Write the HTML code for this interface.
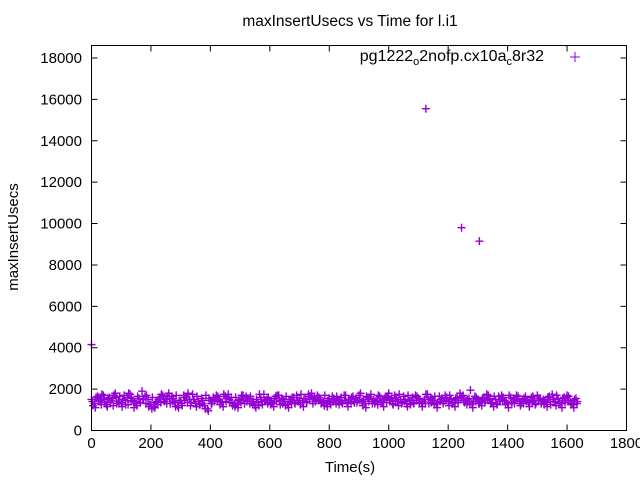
<!DOCTYPE html>
<html><head><meta charset="utf-8"><style>
html,body{margin:0;padding:0;background:#fff;}
svg{display:block;font-family:"Liberation Sans",sans-serif;}
</style></head><body>
<svg id="chart" width="640" height="480" viewBox="0 0 640 480">
<text x="350" y="26" text-anchor="middle" font-size="15.5">maxInsertUsecs vs Time for l.i1</text>
<text transform="translate(18,237) rotate(-90)" text-anchor="middle" font-size="15">maxInsertUsecs</text>
<text x="350" y="472" text-anchor="middle" font-size="15">Time(s)</text>
<g id="axes"></g>
<g id="marks"></g>
<text x="544" y="61" text-anchor="end" font-size="16">pg1222<tspan dy="4" font-size="11">o</tspan><tspan dy="-4">2nofp.cx10a</tspan><tspan dy="4" font-size="11">c</tspan><tspan dy="-4">8r32</tspan></text>
<path d="M570 57h10M575 52v10" stroke="#9400d3" stroke-width="1"/>
<rect x="91.5" y="45.5" width="535" height="385" fill="none" stroke="#000"/>
</svg>
<script>
const xTicks=[0,200,400,600,800,1000,1200,1400,1600,1800];
const yTicks=[0,2000,4000,6000,8000,10000,12000,14000,16000,18000];
const outlierTimes=[0,1125,1245,1305];
const outlierValues=[4150,15550,9800,9150];
const seriesA=[1500,1300,1650,1450,1700,1250,1600,1550,1800,1400,1350,1700,1600,1750,1450,1300,1550,1900,1650,1500,
1250,1150,1400,1600,1700,1500,1800,1650,1350,1200,1450,1700,1600,1500,1750,1300,1400,1550,1200,1050,
1450,1600,1700,1500,1350,1650,1750,1600,1300,1250,1500,1700,1650,1550,1400,1200,1350,1600,1750,1500,
1450,1300,1650,1700,1550,1400,1250,1500,1600,1700,1450,1350,1550,1750,1800,1600,1700,1500,1400,1300,
1550,1650,1500,1450,1600,1700,1350,1500,1650,1550,1700,1400,1300,1600,1750,1500,1450,1650,1350,1600,
1800,1550,1700,1400,1500,1650,1300,1450,1600,1700,1550,1350,1500,1750,1600,1450,1300,1650,1550,1700,
1400,1500,1350,1600,1800,1700,1450,1550,1300,1650,1500,1400,1600,1750,1550,1350,1500,1650,1700,1450,
1300,1600,1550,1700,1400,1500,1650,1350,1600,1450,1700,1550,1500,1350,1650,1750,1400,1550,1300,1600,
1700,1450,1250,1550];
const seriesB=[1200,1600,1400,1750,1350,1550,1450,1700,1300,1650,1500,1250,1800,1550,1400,1650,1350,1500,1700,1250,
1600,1350,1500,1750,1400,1650,1300,1550,1700,1450,1200,1600,1800,1350,1500,1650,1250,1450,1700,1550,
1300,1500,1650,1400,1750,1550,1350,1200,1600,1450,1700,1300,1550,1650,1400,1500,1750,1250,1450,1600,
1350,1550,1700,1250,1500,1650,1400,1600,1300,1450,1750,1550,1400,1650,1300,1500,1600,1350,1700,1450,
1250,1550,1650,1400,1300,1700,1500,1600,1350,1450,1800,1500,1650,1550,1300,1400,1700,1350,1550,1650,
1450,1250,1600,1750,1350,1500,1700,1450,1300,1650,1500,1400,1750,1300,1550,1650,1350,1500,1400,1600,
1700,1300,1550,1450,1650,1350,1500,1950,1400,1600,1300,1550,1450,1700,1350,1650,1250,1500,1600,1400,
1700,1350,1500,1650,1300,1550,1450,1400,1650,1300,1550,1400,1450,1600,1250,1500,1700,1350,1550,1450,
1650,1300,1500,1400];
const seriesC=[1400,1100,1550,1250,1500,1150,1350,1200,1600,1300,1150,1450,1250,1400,1100,1200,1350,1500,1300,1150,
1050,1100,1250,1350,1500,1300,1550,1400,1150,1100,1300,1450,1350,1200,1500,1150,1250,1300,1050,950,
1300,1400,1450,1250,1150,1400,1500,1350,1150,1100,1350,1450,1400,1300,1250,1100,1200,1400,1450,1300,
1250,1150,1400,1450,1300,1200,1100,1300,1350,1450,1250,1150,1350,1500,1550,1400,1450,1300,1200,1150,
1350,1400,1300,1250,1350,1450,1150,1300,1400,1350,1450,1200,1100,1400,1500,1300,1250,1400,1150,1350,
1500,1300,1450,1200,1300,1400,1150,1250,1350,1450,1300,1150,1300,1500,1350,1250,1100,1400,1300,1450,
1200,1300,1150,1350,1550,1450,1250,1300,1100,1400,1300,1200,1350,1500,1300,1150,1300,1400,1450,1250,
1100,1350,1300,1450,1200,1300,1400,1150,1350,1250,1450,1300,1250,1150,1400,1500,1200,1300,1100,1350,
1450,1250,1100,1300];
const X0=91.5,X1=626.5,Y0=430.5,Y1=58;
const sx=t=>X0+t/1800*(X1-X0);
const sy=v=>Y0-v/18000*(Y0-Y1);
const NS="http://www.w3.org/2000/svg";
const axes=document.getElementById('axes'),marks=document.getElementById('marks');
xTicks.forEach(t=>{
  const x=sx(t);
  const p=document.createElementNS(NS,'path');
  p.setAttribute('d',`M${x} 430.5v-6M${x} 45.5v6`);p.setAttribute('stroke','#000');
  
  
  axes.appendChild(p);
  const tx=document.createElementNS(NS,'text');
  tx.setAttribute('x',x);tx.setAttribute('y',448);tx.setAttribute('text-anchor','middle');tx.setAttribute('font-size','15');
  tx.textContent=t;
  
  
  axes.appendChild(tx);
});
yTicks.forEach(v=>{
  const y=sy(v);
  const p=document.createElementNS(NS,'path');
  p.setAttribute('d',`M91.5 ${y}h6M626.5 ${y}h-6`);p.setAttribute('stroke','#000');
  
  
  axes.appendChild(p);
  const tx=document.createElementNS(NS,'text');
  tx.setAttribute('x',82);tx.setAttribute('y',y+5);tx.setAttribute('text-anchor','end');tx.setAttribute('font-size','15');
  tx.textContent=v;
  
  
  axes.appendChild(tx);
});
function plus(t,v){
  const x=sx(t),y=sy(v);
  const p=document.createElementNS(NS,'path');
  p.setAttribute('d',`M${x-4} ${y}h8M${x} ${y-4}v8`);
  p.setAttribute('stroke','#9400d3');p.setAttribute('stroke-width','1.4');
  
  
  marks.appendChild(p);
}
seriesA.forEach((v,i)=>plus(i*10,v));
seriesB.forEach((v,i)=>plus(i*10+5,v));
seriesC.forEach((v,i)=>plus(i*10+3,v));
outlierTimes.forEach((t,i)=>plus(t,outlierValues[i]));
</script>
</body></html>
